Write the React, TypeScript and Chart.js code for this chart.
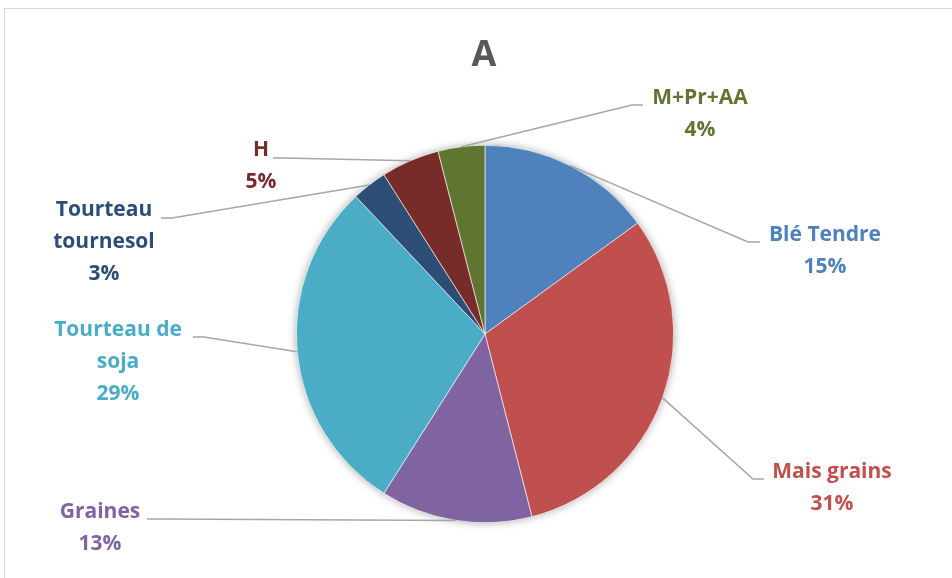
import React, { useEffect, useRef } from "react";
import { Chart, registerables } from "chart.js";

Chart.register(...registerables);

// Feed composition, share of ration (%)
const categories = [
  "Blé Tendre",
  "Mais grains",
  "Graines",
  "Tourteau de soja",
  "Tourteau tournesol",
  "H",
  "M+Pr+AA",
];
const shares = [15, 31, 13, 29, 3, 5, 4];
const labelLines = [
  ["Blé Tendre"],
  ["Mais grains"],
  ["Graines"],
  ["Tourteau de", "soja"],
  ["Tourteau", "tournesol"],
  ["H"],
  ["M+Pr+AA"],
];
const sliceColors = [
  "#4F81BD",
  "#C0504D",
  "#8064A2",
  "#4BACC6",
  "#2C4D75",
  "#772C2A",
  "#5F7530",
];
const chartTitle = "A";

// Where each data label sits and how its leader line bends
const labelLayout = [
  { x: 825, y: 235, elbow: [748, 242], end: [760, 242] },
  { x: 832, y: 472, elbow: [753, 479], end: [764, 479] },
  { x: 100, y: 512, elbow: [160, 519], end: [147, 519] },
  { x: 118, y: 330, elbow: [204, 337], end: [193, 337] },
  { x: 104, y: 210, elbow: [172, 218], end: [161, 218] },
  { x: 261, y: 150, elbow: [283, 158], end: [273, 158] },
  { x: 700, y: 98, elbow: [632, 105], end: [643, 105] },
];

const FONT = "'Open Sans', 'DejaVu Sans', sans-serif";

const decorPlugin = {
  id: "decor",
  beforeDraw(chart: any) {
    const ctx = chart.ctx;
    ctx.save();
    ctx.fillStyle = "#ffffff";
    ctx.fillRect(0, 0, chart.width, chart.height);
    ctx.strokeStyle = "#d9d9d9";
    ctx.lineWidth = 1;
    ctx.strokeRect(4.5, 8.5, 2000, 2000);
    // title
    ctx.fillStyle = "#595959";
    ctx.font = `bold 36px ${FONT}`;
    ctx.textAlign = "center";
    ctx.textBaseline = "middle";
    ctx.fillText(chartTitle, 484, 56);
    ctx.restore();
  },
  beforeDatasetsDraw(chart: any) {
    const meta = chart.getDatasetMeta(0);
    const arc = meta.data[0];
    if (!arc) return;
    const ctx = chart.ctx;
    ctx.save();
    ctx.shadowColor = "rgba(0,0,0,0.35)";
    ctx.shadowBlur = 8;
    ctx.fillStyle = "#ffffff";
    ctx.beginPath();
    ctx.arc(arc.x, arc.y, arc.outerRadius, 0, Math.PI * 2);
    ctx.fill();
    ctx.restore();
  },
  afterDatasetsDraw(chart: any) {
    const ctx = chart.ctx;
    const meta = chart.getDatasetMeta(0);
    ctx.save();
    meta.data.forEach((arc: any, i: number) => {
      const lay = labelLayout[i];
      const mid = (arc.startAngle + arc.endAngle) / 2;
      const ex = arc.x + Math.cos(mid) * arc.outerRadius;
      const ey = arc.y + Math.sin(mid) * arc.outerRadius;
      ctx.strokeStyle = "#a6a6a6";
      ctx.lineWidth = 1.5;
      ctx.beginPath();
      ctx.moveTo(ex, ey);
      ctx.lineTo(lay.elbow[0], lay.elbow[1]);
      ctx.lineTo(lay.end[0], lay.end[1]);
      ctx.stroke();

      const lines = [...labelLines[i], `${shares[i]}%`];
      ctx.fillStyle = sliceColors[i];
      ctx.font = `bold 21px ${FONT}`;
      ctx.textAlign = "center";
      ctx.textBaseline = "middle";
      lines.forEach((t, k) => ctx.fillText(t, lay.x, lay.y + k * 32));
    });
    ctx.restore();
  },
};

export default function App() {
  const ref = useRef<HTMLCanvasElement | null>(null);

  useEffect(() => {
    if (!ref.current) return;
    const chart = new Chart(ref.current, {
      type: "pie",
      data: {
        labels: categories,
        datasets: [
          {
            data: shares,
            backgroundColor: sliceColors,
            borderColor: "#ffffff",
            borderWidth: 0.6,
          },
        ],
      },
      options: {
        responsive: false,
        animation: false,
        devicePixelRatio: 1,
        layout: { padding: { left: 296, right: 278, top: 145, bottom: 55 } },
        plugins: {
          legend: { display: false },
          tooltip: { enabled: false },
          title: { display: false },
        },
      },
      plugins: [decorPlugin],
    });
    return () => chart.destroy();
  }, []);

  return (
    <div style={{ position: "fixed", left: 0, top: 0, width: 952, height: 578, background: "#fff" }}>
      <canvas ref={ref} width={952} height={578} />
    </div>
  );
}
